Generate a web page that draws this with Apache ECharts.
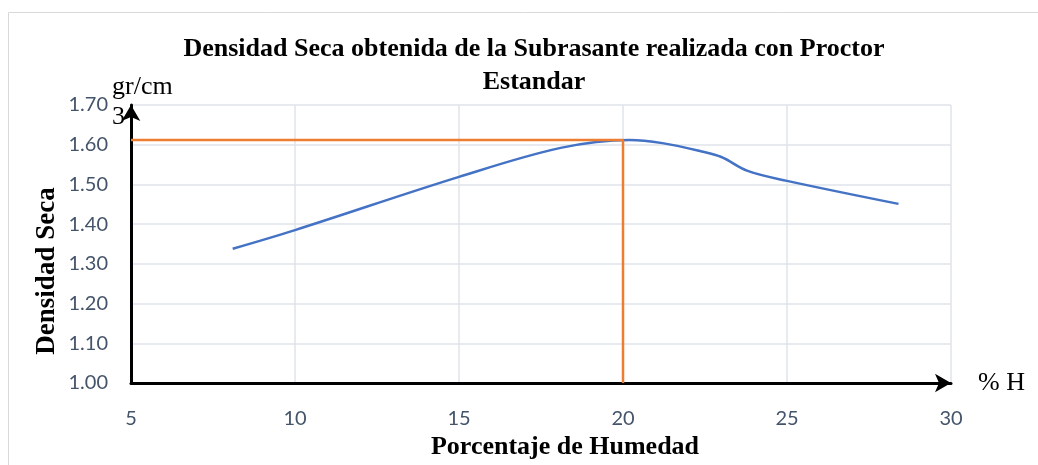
<!DOCTYPE html>
<html>
<head>
<meta charset="utf-8">
<script src="https://cdn.jsdelivr.net/npm/echarts@6/dist/echarts.min.js"></script>
<style>
  html, body { margin: 0; padding: 0; background: #fff; }
  #main { width: 1038px; height: 465px; }
</style>
</head>
<body>
<div id="main"></div>
<script>
// curva de compactacion
const humedad = [8.1, 10, 15, 18.1, 20.2, 21.2, 22.4, 23.0, 23.8, 25, 28.4];
const densidad = [1.338, 1.385, 1.519, 1.592, 1.612, 1.604, 1.583, 1.569, 1.534, 1.509, 1.451];

// humedad optima / densidad maxima
const optimoX = 20;
const optimoY = 1.612;

const xTicks = [5, 30, 5];      // min, max, interval
const yTicks = [1.0, 1.7, 0.1];

const serif = "'Liberation Serif', 'Times New Roman', serif";
const chart = echarts.init(document.getElementById("main"));

const option = {
  animation: false,
  backgroundColor: "#fff",
  title: {
    text: "Densidad Seca obtenida de la Subrasante realizada con Proctor\nEstandar",
    left: 529,
    top: 28,
    textAlign: "center",
    textStyle: {
      fontFamily: serif,
      fontWeight: "bold",
      fontSize: 26,
      lineHeight: 33,
      color: "#000",
    },
  },
  grid: { left: 131, right: 87, top: 105, bottom: 82 },
  graphic: [
    {
      type: "rect",
      z: -10,
      shape: { x: 8.5, y: 12.5, width: 1100, height: 500 },
      style: { fill: "none", stroke: "#d9d9d9", lineWidth: 1 },
    },
    {
      type: "text",
      left: 112,
      top: 72,
      style: {
        text: "gr/cm\n3",
        font: "26px " + serif,
        lineHeight: 30,
        fill: "#000",
      },
    },
    {
      // titulo eje Y
      type: "text",
      x: 47,
      y: 271,
      rotation: Math.PI / 2,
      style: {
        text: "Densidad Seca",
        font: "bold 27px " + serif,
        fill: "#000",
        align: "center",
        verticalAlign: "middle",
      },
    },
    {
      // titulo eje X
      type: "text",
      x: 565,
      y: 447,
      style: {
        text: "Porcentaje de Humedad",
        font: "bold 26px " + serif,
        fill: "#000",
        align: "center",
        verticalAlign: "middle",
      },
    },
  ],
  xAxis: {
    type: "value",
    min: xTicks[0],
    max: xTicks[1],
    interval: xTicks[2],
    name: "% H",
    nameLocation: "end",
    nameGap: 27,
    nameTextStyle: {
      fontFamily: serif,
      fontSize: 26,
      color: "#000",
      padding: [26, 0, 0, 0],
    },
    axisLine: {
      show: true,
      onZero: false,
      symbol: ["none", "arrow"],
      symbolSize: [14, 16],
      lineStyle: { color: "#000", width: 3 },
    },
    axisTick: { show: false },
    axisLabel: { color: "#44546A", fontFamily: "Lato", fontSize: 20, margin: 26 },
    splitLine: { show: true, lineStyle: { color: "#dfe3e8", width: 1.5 } },
  },
  yAxis: {
    type: "value",
    min: yTicks[0],
    max: yTicks[1],
    interval: yTicks[2],
    axisLine: {
      show: true,
      onZero: false,
      symbol: ["none", "arrow"],
      symbolSize: [14, 16],
      lineStyle: { color: "#000", width: 3 },
    },
    axisTick: { show: false },
    axisLabel: {
      color: "#44546A",
      fontFamily: "Lato",
      fontSize: 20,
      margin: 23,
      formatter: (v) => v.toFixed(2),
    },
    splitLine: { show: true, lineStyle: { color: "#dfe3e8", width: 1.5 } },
  },
  series: [
    {
      type: "line",
      data: humedad.map((h, i) => [h, densidad[i]]),
      smooth: 0.35,
      showSymbol: false,
      lineStyle: { color: "#4472C4", width: 2.5 },
      z: 3,
    },
    {
      type: "line",
      data: [
        [xTicks[0], optimoY],
        [optimoX, optimoY],
        [optimoX, yTicks[0]],
      ],
      showSymbol: false,
      lineStyle: { color: "#ED7D31", width: 2.5 },
      z: 4,
    },
  ],
};

chart.setOption(option);
</script>
</body>
</html>
